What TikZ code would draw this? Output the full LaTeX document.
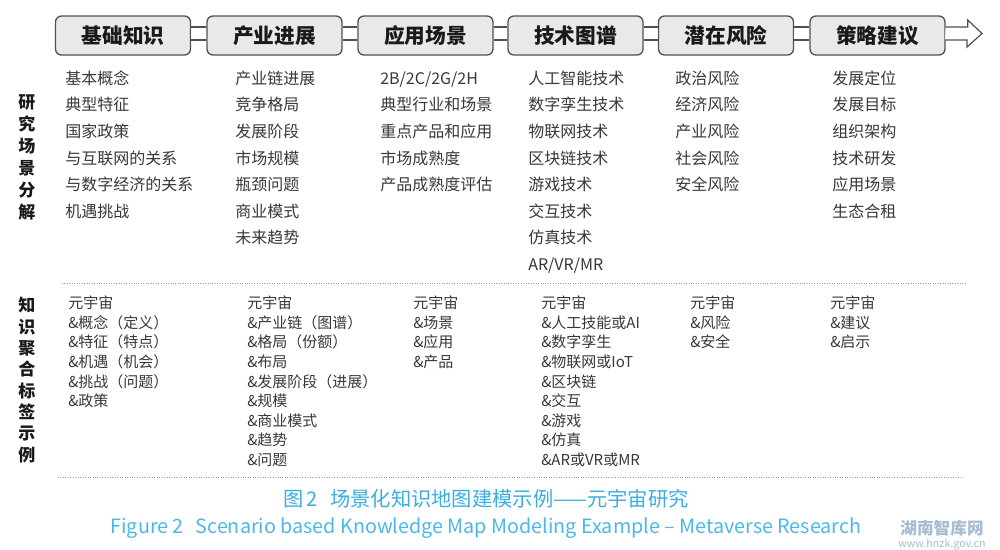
\documentclass[tikz,border=0pt]{standalone}
\usepackage{fontspec}
\setmainfont{Noto Sans CJK SC}
\usetikzlibrary{calc}
\definecolor{boxfill}{HTML}{E9E9E9}
\definecolor{boxline}{HTML}{505050}
\definecolor{txt}{HTML}{383838}
\definecolor{head}{HTML}{1A1A1A}
\definecolor{capblue}{HTML}{3AAEE2}
\definecolor{capbluelight}{HTML}{4DB8E8}
\definecolor{wmark}{HTML}{A8BCD0}
\definecolor{dotgray}{HTML}{9A9A9A}
\begin{document}
\begin{tikzpicture}[x=0.75pt,y=-0.75pt,
  hbox/.style={draw=boxline, fill=boxfill, line width=1pt, rounded corners=4.5pt,
    minimum width=101.25pt, minimum height=29.25pt, inner sep=0pt,
    font=\fontsize{15.5}{18}\selectfont\bfseries, text=head},
  band/.style={draw=boxline, line width=0.9pt, double=white, double distance=8.85pt},
  outline/.style={draw=boxline, line width=0.9pt, fill=white, line join=miter},
  itemA/.style={anchor=base west, inner sep=0pt, font=\fontsize{12}{12}\selectfont, text=txt},
  itemB/.style={anchor=base west, inner sep=0pt, font=\fontsize{11.25}{11.25}\selectfont, text=txt},
  side/.style={align=center, inner sep=0pt, text=head, font=\fontsize{12.75}{16.5}\selectfont\bfseries},
  dotline/.style={draw=dotgray, line width=0.6pt, dash pattern=on 0.75pt off 1.1pt},
  captext/.style={inner sep=0pt, text=capblue}
]
\useasboundingbox (0,0) rectangle (1000,550);
\fill[white] (0,0) rectangle (1000,550);

% header boxes
\foreach \n/\cx/\t in {1/123/基础知识, 2/274.5/产业进展, 3/425.5/应用场景, 4/575.5/技术图谱, 5/726/潜在风险, 6/877.5/策略建议}
  \node[hbox] (h\n) at (\cx,35.5) {\t};

% connectors between boxes
\foreach \a/\b in {1/2,2/3,3/4,4/5,5/6}
  \draw[band] ([yshift=1.5pt]h\a.east) -- ([yshift=1.5pt]h\b.west);

% final hollow arrow
\coordinate (tip) at (982,33.5);
\draw[outline] ($(h6.east)+(0,-8.5)$) -- ++(22,0) -- ++(0,-7) -- (tip) -- ++(-15,13.5) -- ++(0,-7) -- ++(-22,0);

% side labels
\node[side] (sideA) at (27,157) {研\\究\\场\\景\\分\\解};
\node[side, font=\fontsize{12.75}{16}\selectfont\bfseries] (sideB) at (27,380) {知\\识\\聚\\合\\标\\签\\示\\例};

% research scene decomposition
\foreach \t [count=\i from 0] in {基本概念,典型特征,国家政策,与互联网的关系,与数字经济的关系,机遇挑战}
  \node[itemA] (ra\i) at (65,{84.3+26.6*\i}) {\t};
\foreach \t [count=\i from 0] in {产业链进展,竞争格局,发展阶段,市场规模,瓶颈问题,商业模式,未来趋势}
  \node[itemA] (rb\i) at (235,{84.3+26.6*\i}) {\t};
\foreach \t [count=\i from 0] in {2B/2C/2G/2H,典型行业和场景,重点产品和应用,市场成熟度,产品成熟度评估}
  \node[itemA] (rc\i) at (380,{84.3+26.6*\i}) {\t};
\foreach \t [count=\i from 0] in {人工智能技术,数字孪生技术,物联网技术,区块链技术,游戏技术,交互技术,仿真技术,AR/VR/MR}
  \node[itemA] (rd\i) at (528,{84.3+26.6*\i}) {\t};
\foreach \t [count=\i from 0] in {政治风险,经济风险,产业风险,社会风险,安全风险}
  \node[itemA] (re\i) at (675,{84.3+26.6*\i}) {\t};
\foreach \t [count=\i from 0] in {发展定位,发展目标,组织架构,技术研发,应用场景,生态合租}
  \node[itemA] (rf\i) at (832,{84.3+26.6*\i}) {\t};

% separators
\draw[dotline] (62,283) -- (965,283);
\draw[dotline] (58,477) -- (963,477);

% knowledge tags
\foreach \t [count=\i from 0] in {元宇宙,\&概念（定义）,\&特征（特点）,\&机遇（机会）,\&挑战（问题）,\&政策}
  \node[itemB] (ka\i) at (68,{308.6+19.6*\i}) {\t};
\foreach \t [count=\i from 0] in {元宇宙,\&产业链（图谱）,\&格局（份额）,\&布局,\&发展阶段（进展）,\&规模,\&商业模式,\&趋势,\&问题}
  \node[itemB] (kb\i) at (247,{308.6+19.6*\i}) {\t};
\foreach \t [count=\i from 0] in {元宇宙,\&场景,\&应用,\&产品}
  \node[itemB] (kc\i) at (413,{308.6+19.6*\i}) {\t};
\foreach \t [count=\i from 0] in {元宇宙,\&人工技能或AI,\&数字孪生,\&物联网或IoT,\&区块链,\&交互,\&游戏,\&仿真,\&AR或VR或MR}
  \node[itemB] (kd\i) at (541,{308.6+19.6*\i}) {\t};
\foreach \t [count=\i from 0] in {元宇宙,\&风险,\&安全}
  \node[itemB] (ke\i) at (690,{308.6+19.6*\i}) {\t};
\foreach \t [count=\i from 0] in {元宇宙,\&建议,\&启示}
  \node[itemB] (kf\i) at (830,{308.6+19.6*\i}) {\t};

% captions
\node[captext, font=\fontsize{15.2}{17}\selectfont] (capzh) at (486,499) {图\,2\hspace{0.6em}场景化知识地图建模示例——元宇宙研究};
\node[captext, text=capbluelight, font=\fontsize{14.8}{16}\selectfont] (capen) at (486,528) {Figure 2\hspace{0.6em}Scenario based Knowledge Map Modeling Example – Metaverse Research};

% watermark
\node[inner sep=0pt, text=wmark, font=\fontsize{12.5}{14}\selectfont\bfseries] (wm1) at (942,528) {湖南智库网};
\node[inner sep=0pt, text=wmark, font=\fontsize{8}{9}\selectfont] (wm2) at (942,545) {www.hnzk.gov.cn};
\end{tikzpicture}
\end{document}
